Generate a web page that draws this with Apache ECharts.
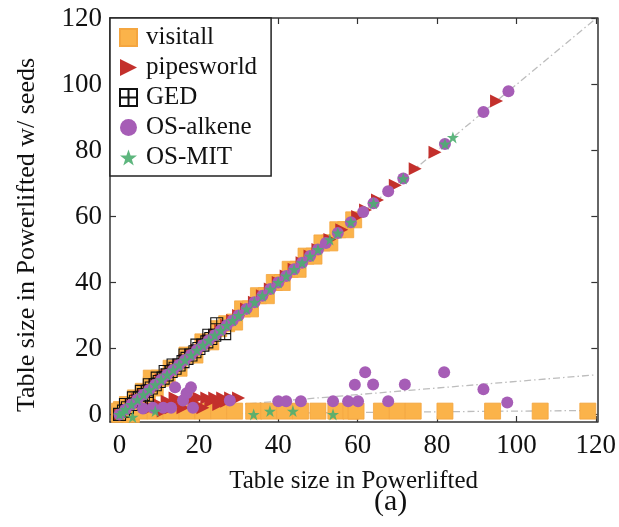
<!DOCTYPE html>
<html>
<head>
<meta charset="utf-8">
<script src="https://cdn.jsdelivr.net/npm/echarts@6/dist/echarts.min.js"></script>
<style>
  html, body { margin: 0; padding: 0; background: #fff; }
  #chart { width: 619px; height: 527px; }
</style>
</head>
<body>
<div id="chart"></div>
<script>
// axis ticks
const tickValues = [0, 20, 40, 60, 80, 100, 120];

// visitall: points on the diagonal and a row along the bottom
const visitallPts = [
  [0,0],[0.5,1.5],[1,1],[2,3],[3,2],[4,5],[5,4],[6,7],[7,6],[8,9],[8,11],[9,8],[10,11],[12,11],[13,14],
  [15,14],[17,18],[19,18],[21,22],[23,22],[25,26],[27,27.5],[29,28],[31,32],[33,32],[35,36],[37,36],
  [39,40],[41,40],[43,44],[45,44],[47,48],[49,48],[51,52],[53,52],[55,56],[57,56],[59,59],
  [0,1],[1.5,1],[3,0],[5,1],[9,1],[13,1],[17,1],[21,1],[25,1],[29,1],[33.8,1],[37.6,1],[41.6,1],
  [45.6,1],[50,1],[54.5,1],[58.3,1],[59.6,1],[66,1],[70,1],[74,1],[82,1],[94,1],[106,1],[118,1]
];

// pipesworld: diagonal plus a cluster just above the bottom
const pipesworldPts = [
  [0,0],[1.5,1.5],[3,3],[4.5,4.5],[6,6],[7.5,7.5],[9,9],[10.5,10.5],[12,12],[13.5,13.5],[15,15],
  [16.5,16.5],[18,18],[19.5,19.5],[21,21],[22.5,22.5],[24,24],[25.5,25.5],[27,27],[28.5,28.5],
  [30,30],[32,32],[34,34],[36,36],[38,38],[40,40],[42,42],[44,44],[46,46],[48,48],[50,50],
  [53,53],[56,56],[60,60],[62,62],[65,65],[69.5,69.5],[74.5,74.5],[79.5,79.5],[95,95],
  [8,2],[10,3],[11,1],[12,4],[13,2],[14,5],[15,3],[16,2],[17,4],[18,5],[19,3],[20,5],
  [21,2],[22,5],[23,4],[24,5],[25,3],[26,5],[27,4],[28,5],[30,5]
];

// GED: only along the diagonal up to about 27
const gedPts = [
  [0,0],[1,1],[1.5,3],[2,2],[3,3],[3.5,5],[4,4],[5,5],[5.5,7],[6,6],[7,7],[7,4],[7.5,9],
  [8,8],[9,9],[9.5,11],[10,10],[11,11],[11.5,13],[12,12],[13,13],[13.5,15],[14,14],[15,15],
  [16,16],[16.5,18],[17,17],[18,18],[19,19],[19.5,21],[20,20],[21,21],[22,22],[22.5,24],
  [23,23],[24,24],[24.5,27.5],[26.5,24.5]
];

// OS-alkene
const alkenePts = [
  [0,0],[1.5,1.5],[3,3],[4.5,4.5],[6,6],[7.5,7.5],[9,9],[10.5,10.5],[12,12],[13.5,13.5],[15,15],
  [16.5,16.5],[18,18],[19.5,19.5],[21,21],[22.5,22.5],[24,24],[25.5,25.5],[27,27],[28.5,28.5],
  [30,30],[32,32],[34,34],[36,36],[38,38],[40,40],[42,42],[44,44],[46,46],[48,48],[50,50],
  [52,52],[55,55],[58.3,58.3],[61.4,61.4],[64,64],[67.7,67.7],[71.5,71.5],[82,82],[91.7,91.7],[98,98],
  [5.9,1.8],[8.4,2],[11,2],[13,2],[14,8.2],[16,4.2],[16.9,6.4],[18,8.2],[18.5,2],
  [27.8,4.2],[40,4],[42,4],[45.7,4],[53.8,4],[57.6,4],[59.3,9],[60.1,4],[61.9,12.8],
  [63.9,9.1],[67.7,4],[71.9,9.1],[81.8,12.8],[91.7,7.6],[97.7,3.6]
];

// OS-MIT
const mitPts = [
  [0,0],[1.5,1.5],[3,3],[4.5,4.5],[6,6],[7.5,7.5],[9,9],[10.5,10.5],[12,12],[13.5,13.5],[15,15],
  [16.5,16.5],[18,18],[19.5,19.5],[21,21],[22.5,22.5],[24,24],[25.5,25.5],[27,27],[28.5,28.5],
  [30,30],[32,32],[34,34],[36,36],[38,38],[40,40],[42,42],[44,44],[46,46],[48,48],[50,50],
  [53,53],[55,55],[58.3,58.3],[64,64],[71.5,71.5],[82,82],[84,84],
  [0.8,0.5],[3.3,-0.8],[9,1],[33.8,0],[37.9,1],[43.7,1],[53.8,0]
];

// dash-dot guide lines (y = x, y = x/10, y = x/100)
const guideDiag = [[0,0],[120,120]];
const guideTenth = [[0,0],[120,12]];
const guideHundredth = [[0,0],[120,1.2]];

const serif = '"Liberation Serif", "DejaVu Serif", serif';
const triRight = 'path://M0,0L10,5L0,10Z';
const boxPlus = 'path://M0,0L10,0L10,10L0,10Z M5,0L5,10 M0,5L10,5';
const star = 'path://M50,0L61.8,34.5L97.6,34.5L68.8,56.2L79.4,90.5L50,69.3L20.6,90.5L31.2,56.2L2.4,34.5L38.2,34.5Z';

const chart = echarts.init(document.getElementById('chart'));

const frameLine = { show: true, onZero: false, lineStyle: { color: '#333', width: 1.5 } };
const innerTick = { show: true, inside: true, length: 6, lineStyle: { color: '#333', width: 1.2 }, customValues: tickValues };

function guide(data) {
  return {
    type: 'line', data: data, showSymbol: false, silent: true, z: 1,
    lineStyle: { color: '#bdbdbd', width: 1.3, type: [7, 3, 1.5, 3] }
  };
}

const option = {
  animation: false,
  grid: { left: 110, right: 21, top: 18, bottom: 105 },
  legend: {
    data: [
      { name: 'visitall', icon: 'rect' },
      { name: 'pipesworld', icon: triRight },
      { name: 'GED', icon: boxPlus },
      { name: 'OS-alkene', icon: 'circle' },
      { name: 'OS-MIT', icon: star }
    ],
    orient: 'vertical',
    left: 110, top: 18,
    padding: [7, 14, 6, 9],
    itemGap: 5,
    itemWidth: 17, itemHeight: 17,
    backgroundColor: '#fff',
    borderColor: '#222', borderWidth: 1.5,
    textStyle: { fontFamily: serif, fontSize: 25, color: '#111', padding: [0, 0, 0, 4] }
  },
  xAxis: [
    {
      type: 'value', position: 'bottom', min: -2.4, max: 120.4,
      splitLine: { show: false }, axisLine: frameLine, axisTick: innerTick,
      axisLabel: { customValues: tickValues, fontFamily: serif, fontSize: 27, color: '#111', margin: 10 },
      name: 'Table size in Powerlifted', nameLocation: 'middle', nameGap: 47,
      nameTextStyle: { fontFamily: serif, fontSize: 25, color: '#111' }
    },
    {
      type: 'value', position: 'top', min: -2.4, max: 120.4,
      splitLine: { show: false }, axisLine: frameLine, axisTick: innerTick, axisLabel: { show: false }
    }
  ],
  yAxis: [
    {
      type: 'value', position: 'left', min: -2.3, max: 120.2,
      splitLine: { show: false }, axisLine: frameLine, axisTick: innerTick,
      axisLabel: { customValues: tickValues, fontFamily: serif, fontSize: 27, color: '#111', margin: 8 },
      name: 'Table size in Powerlifted w/ seeds', nameLocation: 'middle', nameGap: 70,
      nameTextStyle: { fontFamily: serif, fontSize: 26, color: '#111', padding: [0, 30, 0, 0] }
    },
    {
      type: 'value', position: 'right', min: -2.3, max: 120.2,
      splitLine: { show: false }, axisLine: frameLine, axisTick: innerTick, axisLabel: { show: false }
    }
  ],
  graphic: [{
    type: 'text', left: 374, top: 487,
    style: { text: '(a)', font: '30px ' + serif, fill: '#111' }
  }],
  series: [
    guide(guideDiag),
    guide(guideTenth),
    guide(guideHundredth),
    {
      name: 'visitall', type: 'scatter', data: visitallPts, symbol: 'rect', symbolSize: 16, z: 2,
      itemStyle: { color: '#fbb34a', borderColor: '#f4a640', borderWidth: 0.8, opacity: 1 }
    },
    {
      name: 'pipesworld', type: 'scatter', data: pipesworldPts, symbol: triRight,
      symbolSize: 13, z: 3, itemStyle: { color: '#c3302c', opacity: 1 }
    },
    {
      name: 'GED', type: 'scatter', data: gedPts, symbol: boxPlus, symbolSize: 12, z: 4,
      itemStyle: { color: 'rgba(255,255,255,0)', borderColor: '#111', borderWidth: 1.1, opacity: 1 }
    },
    {
      name: 'OS-alkene', type: 'scatter', data: alkenePts, symbol: 'circle', symbolSize: 12, z: 5,
      itemStyle: { color: '#a65db6', opacity: 1 }
    },
    {
      name: 'OS-MIT', type: 'scatter', data: mitPts, symbol: star,
      symbolSize: 12, z: 6, itemStyle: { color: '#4dae70', opacity: 0.9 }
    }
  ]
};

chart.setOption(option);
</script>
</body>
</html>
